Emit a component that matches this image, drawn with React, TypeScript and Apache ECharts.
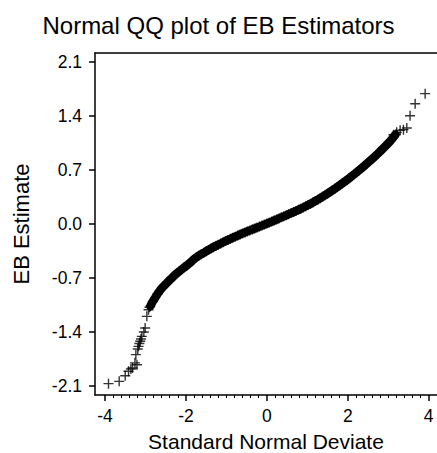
import React, { useEffect, useRef } from "react";
import * as echarts from "echarts";

// ---- data ----
const titleText = "Normal QQ plot of EB Estimators";
const xName = "Standard Normal Deviate";
const yName = "EB Estimate";

const xMajorTicks = [-4, -2, 0, 2, 4];
const xMinorTicks = [
  -3.8, -3.6, -3.4, -3.2, -3.0, -2.8, -2.6, -2.4, -2.2,
  -1.8, -1.6, -1.4, -1.2, -1.0, -0.8, -0.6, -0.4, -0.2,
  0.2, 0.4, 0.6, 0.8, 1.0, 1.2, 1.4, 1.6, 1.8,
  2.2, 2.4, 2.6, 2.8, 3.0, 3.2, 3.4, 3.6, 3.8,
];
const yTicks = [-2.1, -1.4, -0.7, 0, 0.7, 1.4, 2.1];

// dense body of the QQ curve
const bandX = [
  -2.88, -2.82, -2.76, -2.7, -2.64, -2.58, -2.52, -2.46, -2.4, -2.34,
  -2.28, -2.22, -2.16, -2.1, -2.04, -1.98, -1.92, -1.86, -1.8, -1.74,
  -1.68, -1.62, -1.56, -1.5, -1.44, -1.38, -1.32, -1.26, -1.2, -1.14,
  -1.08, -1.02, -0.96, -0.9, -0.84, -0.78, -0.72, -0.66, -0.6, -0.54,
  -0.48, -0.42, -0.36, -0.3, -0.24, -0.18, -0.12, -0.06, 0.0, 0.06,
  0.12, 0.18, 0.24, 0.3, 0.36, 0.42, 0.48, 0.54, 0.6, 0.66,
  0.72, 0.78, 0.84, 0.9, 0.96, 1.02, 1.08, 1.14, 1.2, 1.26,
  1.32, 1.38, 1.44, 1.5, 1.56, 1.62, 1.68, 1.74, 1.8, 1.86,
  1.92, 1.98, 2.04, 2.1, 2.16, 2.22, 2.28, 2.34, 2.4, 2.46,
  2.52, 2.58, 2.64, 2.7, 2.76, 2.82, 2.88, 2.94, 3.0, 3.06,
  3.12, 3.18,
];
const bandY = [
  -1.065, -1.005, -0.955, -0.905, -0.862, -0.822, -0.79, -0.758, -0.726, -0.697,
  -0.665, -0.637, -0.612, -0.587, -0.562, -0.538, -0.512, -0.485, -0.456, -0.431,
  -0.411, -0.392, -0.373, -0.354, -0.336, -0.318, -0.3, -0.284, -0.268, -0.253,
  -0.237, -0.222, -0.206, -0.192, -0.178, -0.164, -0.15, -0.136, -0.122, -0.109,
  -0.096, -0.083, -0.071, -0.058, -0.046, -0.034, -0.021, -0.008, 0.005, 0.018,
  0.031, 0.045, 0.058, 0.072, 0.086, 0.099, 0.113, 0.127, 0.141, 0.155,
  0.169, 0.184, 0.199, 0.214, 0.23, 0.246, 0.263, 0.28, 0.298, 0.316,
  0.335, 0.354, 0.374, 0.394, 0.415, 0.436, 0.458, 0.48, 0.502, 0.525,
  0.548, 0.571, 0.595, 0.62, 0.645, 0.671, 0.697, 0.723, 0.75, 0.777,
  0.805, 0.833, 0.861, 0.89, 0.92, 0.951, 0.983, 1.015, 1.047, 1.08,
  1.12, 1.16,
];

// sparse lower tail
const lowTailX = [
  -3.913, -3.649, -3.5, -3.418, -3.36, -3.32, -3.26, -3.21, -3.237, -3.19,
  -3.171, -3.15, -3.13, -3.11, -3.089, -3.04, -3.007, -2.966, -2.924, -2.9,
];
const lowTailY = [
  -2.07, -2.04, -1.967, -1.91, -1.88, -1.867, -1.8, -1.824, -1.694, -1.62,
  -1.586, -1.55, -1.521, -1.49, -1.457, -1.4, -1.349, -1.197, -1.111, -1.08,
];

// sparse upper tail
const highTailX = [3.13, 3.21, 3.295, 3.377, 3.46, 3.54, 3.666, 3.913];
const highTailY = [1.158, 1.188, 1.214, 1.223, 1.244, 1.404, 1.56, 1.69];

const X_MIN = -4.247;
const X_MAX = 4.206;
const Y_MIN = -2.217;
const Y_MAX = 2.217;

const FONT = "'Liberation Sans', Arial, Helvetica, sans-serif";
const PLUS = "path://M4.3,0H5.7V4.3H10V5.7H5.7V10H4.3V5.7H0V4.3H4.3Z";

export default function App() {
  const ref = useRef<HTMLDivElement | null>(null);

  useEffect(() => {
    if (!ref.current) return;
    const chart = echarts.init(ref.current, null, { renderer: "svg" });

    const band: number[][] = bandX.map((x, i) => [x, bandY[i]]);
    const points: number[][] = band.slice();
    lowTailX.forEach((x, i) => points.push([x, lowTailY[i]]));
    highTailX.forEach((x, i) => points.push([x, highTailY[i]]));

    const lineStyle = { color: "#000", width: 1.5 };

    chart.setOption({
      animation: false,
      backgroundColor: "#ffffff",
      title: {
        text: titleText,
        left: "center",
        top: 8,
        textStyle: {
          fontFamily: FONT,
          fontSize: 24,
          fontWeight: "normal",
          color: "#000",
        },
      },
      grid: {
        left: 95,
        right: 0,
        top: 53,
        bottom: 58,
        containLabel: false,
        outerBoundsMode: "none",
      },
      xAxis: [
        {
          type: "value",
          min: X_MIN,
          max: X_MAX,
          position: "bottom",
          splitLine: { show: false },
          axisLine: { show: true, onZero: false, lineStyle },
          axisTick: {
            show: true,
            customValues: xMajorTicks,
            length: 6,
            lineStyle,
          },
          axisLabel: {
            show: true,
            customValues: xMajorTicks,
            formatter: (v: number) => String(v),
            fontFamily: FONT,
            fontSize: 17.5,
            margin: 12,
            color: "#000",
          },
          name: xName,
          nameLocation: "middle",
          nameGap: 37,
          nameTextStyle: {
            fontFamily: FONT,
            fontSize: 21,
            lineHeight: 18,
            color: "#000",
          },
        },
        {
          type: "value",
          min: X_MIN,
          max: X_MAX,
          position: "bottom",
          splitLine: { show: false },
          axisLine: { show: false, onZero: false },
          axisTick: {
            show: true,
            customValues: xMinorTicks,
            length: 3,
            lineStyle: { color: "#000", width: 1 },
          },
          axisLabel: { show: false },
        },
        {
          type: "value",
          min: X_MIN,
          max: X_MAX,
          position: "top",
          splitLine: { show: false },
          axisLine: { show: true, onZero: false, lineStyle },
          axisTick: { show: false },
          axisLabel: { show: false },
        },
      ],
      yAxis: {
        type: "value",
        min: Y_MIN,
        max: Y_MAX,
        position: "left",
        splitLine: { show: false },
        axisLine: { show: true, onZero: false, lineStyle },
        axisTick: { show: true, customValues: yTicks, length: 6, lineStyle },
        axisLabel: {
          show: true,
          customValues: yTicks,
          formatter: (v: number) => v.toFixed(1),
          fontFamily: FONT,
          fontSize: 17.5,
          margin: 13,
          color: "#000",
        },
        name: yName,
        nameLocation: "middle",
        nameGap: 63,
        nameRotate: 90,
        nameTextStyle: { fontFamily: FONT, fontSize: 22, color: "#000" },
      },
      series: [
        {
          // solid body formed by the thousands of overlapping markers
          type: "line",
          xAxisIndex: 0,
          yAxisIndex: 0,
          data: band,
          showSymbol: false,
          symbol: "none",
          smooth: false,
          lineStyle: { color: "#000", width: 8.5, cap: "round", join: "round" },
          silent: true,
        },
        {
          type: "scatter",
          xAxisIndex: 0,
          yAxisIndex: 0,
          data: points,
          symbol: PLUS,
          symbolSize: 10,
          itemStyle: { color: "#000" },
          silent: true,
        },
      ],
    });

    return () => chart.dispose();
  }, []);

  return (
    <div
      ref={ref}
      style={{ position: "fixed", left: 0, top: 0, width: 437, height: 453 }}
    />
  );
}
